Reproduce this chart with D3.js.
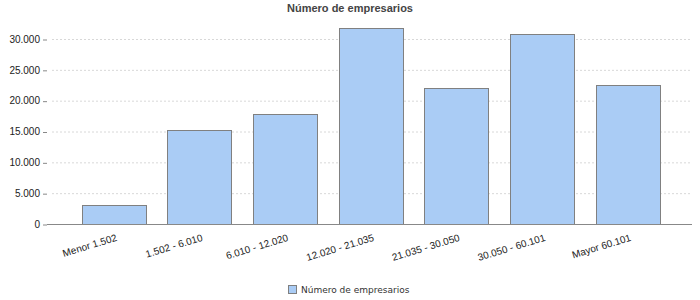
<!DOCTYPE html>
<html>
<head>
<meta charset="utf-8">
<script src="https://cdn.jsdelivr.net/npm/d3@7"></script>
<style>
  body { margin: 0; background: #fff; }
</style>
</head>
<body>
<svg></svg>
<script>
var categories = ["Menor 1.502", "1.502 - 6.010", "6.010 - 12.020", "12.020 - 21.035",
                  "21.035 - 30.050", "30.050 - 60.101", "Mayor 60.101"];
var values = [3030, 15190, 17790, 31730, 22000, 30760, 22490];
var yTicks = [0, 5000, 10000, 15000, 20000, 25000, 30000];
var seriesName = "Número de empresarios";

var svgWidth = 700, svgHeight = 300;
var margin = { top: 39, right: 8, bottom: 76, left: 47 };
var width = svgWidth - margin.left - margin.right;
var height = svgHeight - margin.top - margin.bottom;

var svg = d3.select("svg").attr("width", svgWidth).attr("height", svgHeight)
  .style("font-family", "Liberation Sans, Arial, sans-serif");

svg.append("text").attr("x", 350).attr("y", 12).attr("text-anchor", "middle")
  .attr("font-size", "11px").attr("font-weight", "bold").attr("fill", "#444")
  .text(seriesName);

var g = svg.append("g").attr("transform", "translate(" + margin.left + "," + margin.top + ")");

var x = d3.scaleBand().domain(categories).range([3.7, 643.5])
  .paddingInner(0.253).paddingOuter(0.36);
var y = d3.scaleLinear().domain([0, 30000]).range([height, 0]);

// grid
g.append("g").selectAll("line").data(yTicks.slice(1)).join("line")
  .attr("x1", 5).attr("x2", width).attr("y1", function(d) { return y(d) + 0.5; })
  .attr("y2", function(d) { return y(d) + 0.5; })
  .attr("stroke", "#d8d8d8").attr("stroke-dasharray", "2,2");

// y axis
var yAxis = g.append("g")
  .call(d3.axisLeft(y).tickValues(yTicks).tickSize(4).tickPadding(3)
    .tickFormat(function(d) { return d3.format(",")(d).replace(/,/g, "."); }));
yAxis.select(".domain").remove();
yAxis.selectAll("line").attr("stroke", "#888").attr("transform", "translate(0,0.5)");
yAxis.selectAll("text").attr("font-size", "10px").attr("fill", "#222")
  .attr("font-family", "Liberation Sans, Arial, sans-serif");

// bars
g.selectAll("rect.bar").data(values).join("rect").attr("class", "bar")
  .attr("x", function(d, i) { return Math.round(x(categories[i])) + 0.5; })
  .attr("y", function(d) { return Math.round(y(d)) + 0.5; })
  .attr("width", Math.round(x.bandwidth()))
  .attr("height", function(d) { return Math.round(height - y(d)); })
  .attr("fill", "#aaccf5").attr("stroke", "#808080");

// x axis
var xAxis = g.append("g").attr("transform", "translate(0," + (height + 0.5) + ")")
  .call(d3.axisBottom(x).tickSize(0).tickPadding(0));
xAxis.select(".domain").attr("stroke", "#888").attr("d", "M0,0H" + width);
xAxis.selectAll("text").attr("font-size", "10px").attr("fill", "#222")
  .attr("font-family", "Liberation Sans, Arial, sans-serif")
  .attr("text-anchor", "end").attr("dy", null)
  .attr("transform", "translate(4,16) rotate(-17)");

// legend
var leg = svg.append("g").attr("transform", "translate(288,285)");
leg.append("rect").attr("x", 0.5).attr("y", 0.5).attr("width", 8).attr("height", 8)
  .attr("fill", "#aaccf5").attr("stroke", "#808080");
leg.append("text").attr("x", 13).attr("y", 8).attr("font-size", "9px")
  .attr("font-family", "DejaVu Sans, sans-serif").attr("fill", "#333")
  .text(seriesName);
</script>
</body>
</html>
